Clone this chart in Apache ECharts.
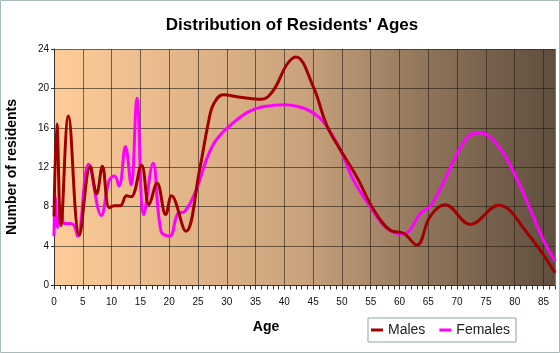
<!DOCTYPE html>
<html>
<head>
<meta charset="utf-8">
<script src="https://cdn.jsdelivr.net/npm/echarts@6/dist/echarts.min.js"></script>
<style>
html,body{margin:0;padding:0;background:#fff;}
#c{width:560px;height:353px;}
</style>
</head>
<body>
<div id="c"></div>
<script>
const maleAges   = [0, 0.5, 1.2, 2.5, 4.4, 6.3, 7.4, 8.4, 9.6, 10.5, 11.5, 12.6, 13.4, 15.2, 16.5, 17.9, 19.4, 20.4, 22.9, 25.3, 26.8, 27.7, 29.4, 32.3, 36, 38.1, 40.4, 42, 45, 47.4, 49.7, 52.6, 55.5, 58.4, 60.7, 63, 65.3, 67.9, 72.3, 77.2, 82.2, 87];
const maleValues = [7, 16.4, 6.1, 17.2, 5.1, 12.1, 9.3, 12.1, 7.9, 8.1, 8.1, 9.1, 9.0, 12.2, 8.2, 10.4, 7.2, 9.1, 5.5, 11.8, 16.5, 18.4, 19.35, 19.1, 18.9, 19.8, 22.4, 23.2, 20.2, 16.2, 13.8, 11.0, 7.7, 5.6, 5.3, 4.1, 7.0, 8.2, 6.2, 8.15, 5.3, 1.3];
const femaleAges   = [0, 0.2, 0.6, 1.25, 1.8, 2.7, 3.5, 4.1, 6.0, 8.2, 9.6, 10.5, 11.3, 12.4, 13.4, 14.4, 15.6, 17.2, 18.6, 20.1, 21.5, 22.7, 24.7, 26.5, 28.2, 31.1, 34, 36.9, 40, 42.1, 44.5, 46.8, 49.7, 52, 54.9, 57.8, 60.7, 62, 63.6, 65.3, 67.6, 70, 72.3, 74, 76.9, 79.3, 82.2, 85, 87];
const femaleValues = [5, 9, 5.9, 8.0, 6.3, 6.3, 6.1, 5.0, 12.3, 7.1, 10.7, 11.1, 10.1, 14.1, 10.2, 19.0, 7.2, 12.4, 5.5, 5.0, 7.3, 7.5, 9.7, 12.8, 14.8, 16.5, 17.7, 18.2, 18.35, 18.2, 17.7, 16.6, 13.8, 10.7, 8.0, 5.8, 5.2, 5.8, 7.3, 8.0, 10.4, 13.4, 15.3, 15.5, 14.3, 12.1, 8.4, 4.6, 2.5];
const seriesNames = ['Males', 'Females'];
const xLabelStep = 5;
const yMax = 24, yStep = 4, xMax = 87;

const pair = (a, v) => a.map((x, i) => [x, v[i]]);
const chart = echarts.init(document.getElementById('c'), null, {renderer: 'canvas'});
const gridColor = 'rgba(40,30,20,0.62)';
const plotH = 236.5;
chart.setOption({
  animation: false,
  backgroundColor: '#fff',
  grid: {
    left: 54, right: 5, top: 49, height: plotH,
    show: true, borderWidth: 0,
    backgroundColor: new echarts.graphic.LinearGradient(0, 0, 1, 0, [
      {offset: 0, color: '#FFCC99'},
      {offset: 0.5, color: '#C9A27C'},
      {offset: 0.75, color: '#8E735A'},
      {offset: 1, color: '#5F4E3E'}
    ])
  },
  xAxis: [{
    type: 'value', min: 0, max: xMax, interval: xLabelStep, position: 'bottom',
    axisLine: {show: true, lineStyle: {color: '#333', width: 1}},
    axisTick: {show: false},
    splitLine: {show: true, lineStyle: {color: gridColor, width: 1}},
    axisLabel: {
      margin: 12, fontSize: 10, color: '#111', fontFamily: 'Liberation Sans',
      formatter: v => (v % xLabelStep === 0 ? String(v) : '')
    }
  }, {
    type: 'value', min: 0, max: xMax, interval: 1, position: 'top', offset: -plotH,
    axisLine: {show: false},
    axisTick: {show: true, inside: true, length: 4, lineStyle: {color: '#333'}},
    splitLine: {show: false},
    axisLabel: {show: false}
  }],
  yAxis: {
    type: 'value', min: 0, max: yMax, interval: yStep,
    axisLine: {show: true, lineStyle: {color: '#333'}},
    axisTick: {show: true, length: 3, lineStyle: {color: '#333'}},
    splitLine: {show: true, lineStyle: {color: gridColor, width: 1}},
    axisLabel: {margin: 5, fontSize: 10, color: '#111', fontFamily: 'Liberation Sans'}
  },
  legend: {
    data: seriesNames,
    left: 368, top: 318, orient: 'horizontal',
    padding: [5, 6, 5, 3],
    borderColor: '#8fa6a6', borderWidth: 1,
    itemWidth: 12, itemHeight: 3, itemGap: 14,
    icon: 'rect',
    textStyle: {fontSize: 14, color: '#222', fontFamily: 'Liberation Sans', padding: [0, 0, 0, 0]}
  },
  graphic: [
    {type: 'text', x: 292, y: 25, style: {text: "Distribution of Residents' Ages", font: 'bold 17px "Liberation Sans", Arial', fill: '#000', textAlign: 'center', textVerticalAlign: 'middle'}},
    {type: 'text', x: 266, y: 327.5, style: {text: 'Age', font: 'bold 14px "Liberation Sans", Arial', fill: '#000', textAlign: 'center', textVerticalAlign: 'middle'}},
    {type: 'text', x: 12, y: 167, rotation: Math.PI / 2, style: {text: 'Number of residents', font: 'bold 14px "Liberation Sans", Arial', fill: '#000', textAlign: 'center', textVerticalAlign: 'middle'}},
    {type: 'rect', shape: {x: 0.5, y: 0.5, width: 559, height: 352}, style: {fill: 'none', stroke: '#a6baba', lineWidth: 1}, silent: true}
  ],
  series: [
    {name: seriesNames[1], type: 'line', xAxisIndex: 0, data: pair(femaleAges, femaleValues), smooth: 0.4, showSymbol: false, lineStyle: {color: '#FF00FF', width: 3}, itemStyle: {color: '#FF00FF'}},
    {name: seriesNames[0], type: 'line', xAxisIndex: 0, data: pair(maleAges, maleValues), smooth: 0.4, showSymbol: false, lineStyle: {color: '#A00000', width: 3}, itemStyle: {color: '#A00000'}}
  ]
});
</script>
</body>
</html>
